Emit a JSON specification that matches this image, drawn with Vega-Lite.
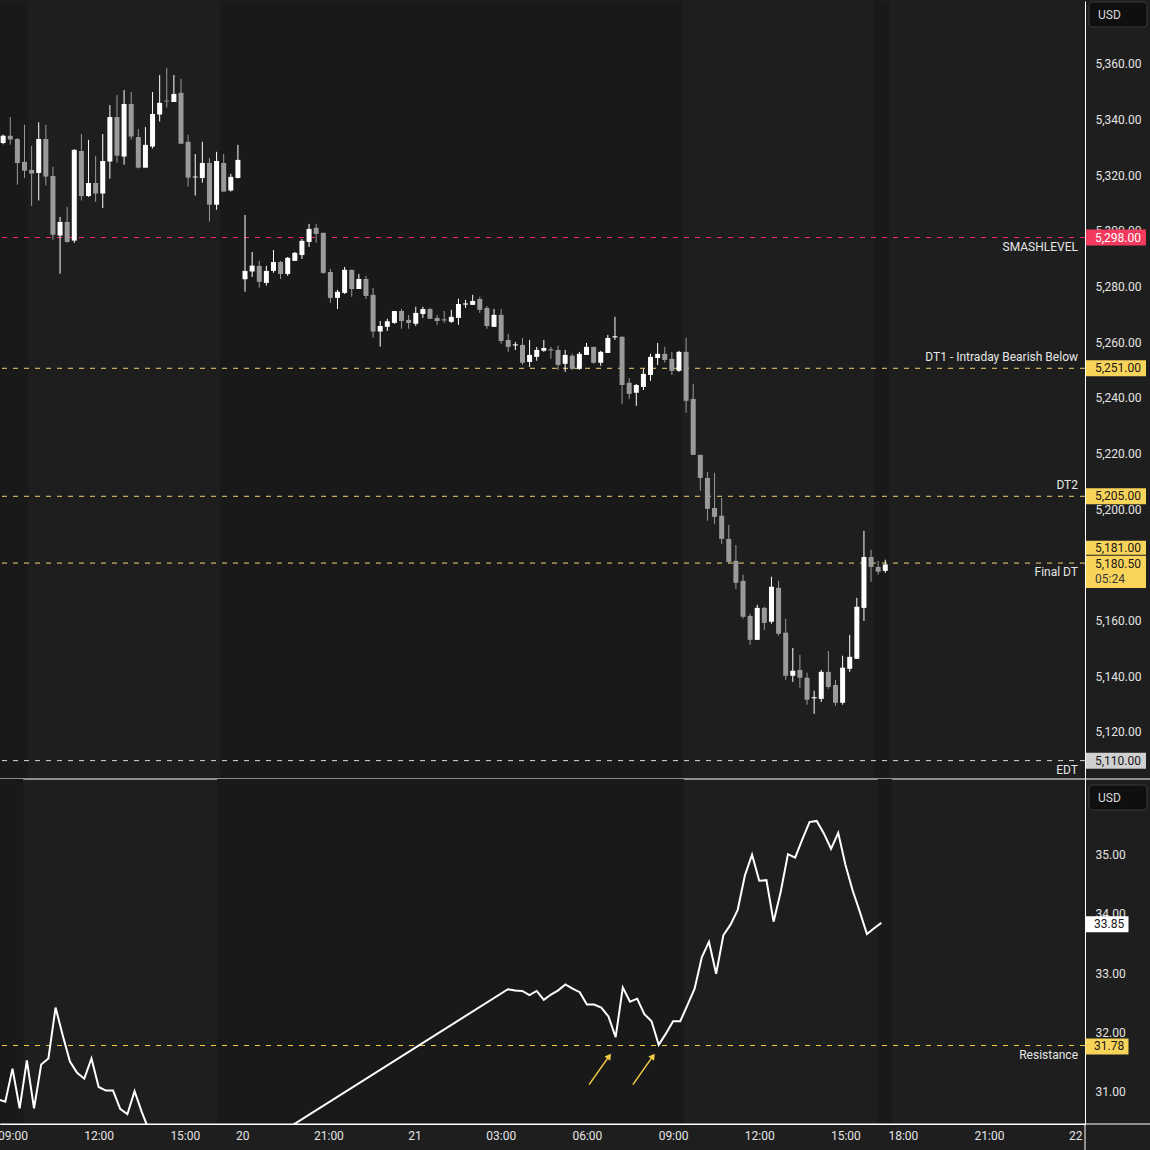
{
  "$schema": "https://vega.github.io/schema/vega-lite/v6.json",
  "background": "#1e1e1e",
  "padding": {"left": -3, "top": 0, "right": 0, "bottom": 0},
  "spacing": 0,
  "bounds": "flush",
  "config": {
    "view": {"stroke": null},
    "font": "Roboto",
    "axis": {"labelFont": "Roboto", "labelFontSize": 12, "labelColor": "#e4e4e4", "grid": false, "ticks": false, "domainColor": "#ffffff", "domainWidth": 1, "labelFlush": false, "labelOverlap": false}
  },
  "datasets": {
    "sessions": [{"s": -3, "e": 1.5}, {"s": 28.5, "e": 93.5}, {"s": 120.5, "e": 122.5}],
    "levels": [
      {"label": "SMASHLEVEL", "price": 5298, "kind": "smash", "side": "below"},
      {"label": "DT1 - Intraday Bearish Below", "price": 5251, "kind": "dt", "side": "above"},
      {"label": "DT2", "price": 5205, "kind": "dt", "side": "above"},
      {"label": "Final DT", "price": 5181, "kind": "dt", "side": "below"},
      {"label": "EDT", "price": 5110, "kind": "edt", "side": "below"}
    ],
    "blevels": [{"label": "Resistance", "price": 31.78}],
    "arrows": [{"x": 80.3, "y": 31.12, "x2": 83.1, "y2": 31.6}, {"x": 86.4, "y": 31.12, "x2": 89.2, "y2": 31.6}],
    "candles": [
      {"i": -2, "o": 5332.0, "h": 5335.0, "l": 5331.5, "c": 5334.6},
      {"i": -1, "o": 5334.6, "h": 5341.3, "l": 5331.4, "c": 5333.2},
      {"i": 0, "o": 5333.4, "h": 5333.8, "l": 5317.0, "c": 5324.8},
      {"i": 1, "o": 5325.2, "h": 5338.5, "l": 5319.4, "c": 5322.0},
      {"i": 2, "o": 5322.3, "h": 5330.9, "l": 5309.4, "c": 5321.0},
      {"i": 3, "o": 5321.2, "h": 5339.4, "l": 5311.3, "c": 5333.4},
      {"i": 4, "o": 5333.4, "h": 5338.5, "l": 5316.7, "c": 5319.9},
      {"i": 5, "o": 5320.1, "h": 5323.4, "l": 5297.2, "c": 5299.0},
      {"i": 6, "o": 5298.7, "h": 5305.4, "l": 5285.0, "c": 5303.6},
      {"i": 7, "o": 5303.6, "h": 5309.0, "l": 5296.1, "c": 5296.4},
      {"i": 8, "o": 5296.9, "h": 5329.8, "l": 5296.1, "c": 5329.5},
      {"i": 9, "o": 5329.1, "h": 5335.2, "l": 5311.3, "c": 5312.9},
      {"i": 10, "o": 5312.9, "h": 5333.1, "l": 5312.6, "c": 5317.6},
      {"i": 11, "o": 5317.6, "h": 5327.3, "l": 5310.8, "c": 5313.8},
      {"i": 12, "o": 5313.8, "h": 5335.2, "l": 5308.6, "c": 5325.5},
      {"i": 13, "o": 5325.3, "h": 5345.6, "l": 5319.2, "c": 5341.3},
      {"i": 14, "o": 5341.3, "h": 5349.2, "l": 5324.9, "c": 5327.4},
      {"i": 15, "o": 5327.1, "h": 5351.0, "l": 5324.2, "c": 5346.0},
      {"i": 16, "o": 5346.0, "h": 5350.3, "l": 5333.2, "c": 5334.3},
      {"i": 17, "o": 5334.1, "h": 5337.0, "l": 5322.8, "c": 5323.1},
      {"i": 18, "o": 5323.1, "h": 5337.7, "l": 5323.1, "c": 5331.3},
      {"i": 19, "o": 5330.7, "h": 5350.3, "l": 5330.0, "c": 5342.4},
      {"i": 20, "o": 5342.2, "h": 5356.4, "l": 5339.7, "c": 5346.4},
      {"i": 21, "o": 5347.2, "h": 5359.0, "l": 5344.7, "c": 5346.9},
      {"i": 22, "o": 5346.7, "h": 5356.4, "l": 5346.7, "c": 5349.6},
      {"i": 23, "o": 5350.0, "h": 5355.0, "l": 5331.7, "c": 5331.7},
      {"i": 24, "o": 5332.4, "h": 5334.9, "l": 5316.3, "c": 5319.5},
      {"i": 25, "o": 5319.6, "h": 5328.0, "l": 5313.1, "c": 5319.9},
      {"i": 26, "o": 5319.4, "h": 5332.4, "l": 5317.7, "c": 5324.8},
      {"i": 27, "o": 5324.8, "h": 5326.6, "l": 5303.7, "c": 5309.8},
      {"i": 28, "o": 5309.8, "h": 5328.8, "l": 5308.0, "c": 5325.5},
      {"i": 29, "o": 5324.8, "h": 5328.0, "l": 5314.5, "c": 5314.5},
      {"i": 30, "o": 5314.9, "h": 5320.9, "l": 5314.5, "c": 5319.8},
      {"i": 31, "o": 5319.4, "h": 5331.3, "l": 5319.2, "c": 5325.9},
      {"i": 32, "o": 5283.0, "h": 5306.1, "l": 5278.5, "c": 5286.0},
      {"i": 33, "o": 5285.8, "h": 5292.8, "l": 5283.8, "c": 5287.9},
      {"i": 34, "o": 5287.8, "h": 5289.6, "l": 5280.0, "c": 5282.1},
      {"i": 35, "o": 5281.7, "h": 5287.8, "l": 5280.7, "c": 5286.0},
      {"i": 36, "o": 5286.0, "h": 5293.5, "l": 5285.3, "c": 5289.2},
      {"i": 37, "o": 5289.2, "h": 5289.6, "l": 5283.1, "c": 5284.9},
      {"i": 38, "o": 5284.9, "h": 5291.0, "l": 5284.2, "c": 5290.7},
      {"i": 39, "o": 5289.6, "h": 5292.8, "l": 5289.6, "c": 5292.5},
      {"i": 40, "o": 5291.7, "h": 5297.5, "l": 5290.3, "c": 5296.8},
      {"i": 41, "o": 5296.4, "h": 5302.9, "l": 5294.6, "c": 5301.1},
      {"i": 42, "o": 5301.5, "h": 5302.9, "l": 5296.1, "c": 5299.3},
      {"i": 43, "o": 5299.7, "h": 5299.7, "l": 5284.9, "c": 5285.3},
      {"i": 44, "o": 5285.6, "h": 5286.7, "l": 5274.5, "c": 5276.3},
      {"i": 45, "o": 5276.3, "h": 5279.2, "l": 5272.3, "c": 5278.5},
      {"i": 46, "o": 5278.1, "h": 5287.4, "l": 5277.7, "c": 5286.4},
      {"i": 47, "o": 5286.4, "h": 5286.4, "l": 5276.7, "c": 5279.5},
      {"i": 48, "o": 5279.5, "h": 5284.9, "l": 5279.5, "c": 5283.1},
      {"i": 49, "o": 5283.1, "h": 5284.2, "l": 5275.9, "c": 5277.0},
      {"i": 50, "o": 5277.4, "h": 5279.9, "l": 5262.0, "c": 5264.2},
      {"i": 51, "o": 5264.2, "h": 5268.0, "l": 5258.8, "c": 5266.2},
      {"i": 52, "o": 5265.9, "h": 5268.8, "l": 5264.4, "c": 5267.9},
      {"i": 53, "o": 5267.3, "h": 5271.6, "l": 5267.0, "c": 5271.6},
      {"i": 54, "o": 5271.6, "h": 5272.3, "l": 5265.2, "c": 5268.0},
      {"i": 55, "o": 5268.4, "h": 5270.2, "l": 5265.2, "c": 5267.3},
      {"i": 56, "o": 5267.0, "h": 5273.1, "l": 5266.2, "c": 5270.9},
      {"i": 57, "o": 5270.5, "h": 5273.1, "l": 5269.1, "c": 5272.3},
      {"i": 58, "o": 5272.3, "h": 5272.7, "l": 5268.8, "c": 5268.8},
      {"i": 59, "o": 5269.1, "h": 5270.2, "l": 5266.6, "c": 5268.0},
      {"i": 60, "o": 5268.6, "h": 5271.6, "l": 5267.3, "c": 5268.2},
      {"i": 61, "o": 5267.7, "h": 5272.0, "l": 5267.3, "c": 5269.5},
      {"i": 62, "o": 5269.1, "h": 5276.0, "l": 5266.6, "c": 5274.1},
      {"i": 63, "o": 5273.9, "h": 5275.6, "l": 5272.7, "c": 5274.3},
      {"i": 64, "o": 5273.8, "h": 5277.4, "l": 5273.8, "c": 5275.2},
      {"i": 65, "o": 5275.9, "h": 5276.7, "l": 5270.9, "c": 5272.0},
      {"i": 66, "o": 5272.7, "h": 5273.4, "l": 5265.2, "c": 5266.2},
      {"i": 67, "o": 5265.9, "h": 5272.3, "l": 5265.9, "c": 5270.2},
      {"i": 68, "o": 5270.2, "h": 5272.3, "l": 5259.8, "c": 5260.8},
      {"i": 69, "o": 5261.2, "h": 5263.4, "l": 5256.9, "c": 5258.7},
      {"i": 70, "o": 5259.2, "h": 5260.5, "l": 5257.6, "c": 5259.6},
      {"i": 71, "o": 5259.4, "h": 5261.9, "l": 5252.2, "c": 5253.0},
      {"i": 72, "o": 5253.3, "h": 5261.2, "l": 5251.5, "c": 5255.8},
      {"i": 73, "o": 5255.1, "h": 5258.7, "l": 5253.7, "c": 5257.6},
      {"i": 74, "o": 5257.3, "h": 5261.2, "l": 5256.9, "c": 5258.3},
      {"i": 75, "o": 5257.8, "h": 5258.7, "l": 5254.4, "c": 5257.4},
      {"i": 76, "o": 5257.6, "h": 5259.1, "l": 5250.4, "c": 5252.2},
      {"i": 77, "o": 5252.6, "h": 5257.6, "l": 5249.7, "c": 5255.8},
      {"i": 78, "o": 5255.5, "h": 5256.2, "l": 5250.4, "c": 5250.8},
      {"i": 79, "o": 5250.8, "h": 5256.9, "l": 5250.4, "c": 5256.2},
      {"i": 80, "o": 5255.8, "h": 5260.1, "l": 5255.8, "c": 5258.7},
      {"i": 81, "o": 5258.7, "h": 5258.7, "l": 5252.6, "c": 5253.0},
      {"i": 82, "o": 5253.0, "h": 5257.3, "l": 5251.9, "c": 5256.9},
      {"i": 83, "o": 5256.5, "h": 5263.0, "l": 5256.5, "c": 5261.9},
      {"i": 84, "o": 5262.1, "h": 5269.5, "l": 5261.2, "c": 5262.5},
      {"i": 85, "o": 5262.3, "h": 5262.6, "l": 5238.2, "c": 5245.0},
      {"i": 86, "o": 5245.8, "h": 5247.5, "l": 5240.0, "c": 5241.8},
      {"i": 87, "o": 5242.2, "h": 5245.4, "l": 5237.5, "c": 5245.0},
      {"i": 88, "o": 5244.3, "h": 5250.8, "l": 5243.2, "c": 5249.0},
      {"i": 89, "o": 5248.6, "h": 5256.2, "l": 5246.5, "c": 5255.1},
      {"i": 90, "o": 5254.7, "h": 5260.1, "l": 5252.2, "c": 5256.2},
      {"i": 91, "o": 5256.2, "h": 5258.7, "l": 5253.0, "c": 5254.0},
      {"i": 92, "o": 5254.4, "h": 5256.9, "l": 5248.6, "c": 5250.1},
      {"i": 93, "o": 5250.1, "h": 5257.3, "l": 5249.7, "c": 5256.9},
      {"i": 94, "o": 5256.9, "h": 5261.9, "l": 5235.0, "c": 5239.3},
      {"i": 95, "o": 5240.0, "h": 5245.4, "l": 5219.9, "c": 5219.9},
      {"i": 96, "o": 5219.9, "h": 5219.9, "l": 5207.0, "c": 5211.6},
      {"i": 97, "o": 5211.6, "h": 5213.8, "l": 5196.2, "c": 5200.5},
      {"i": 98, "o": 5200.8, "h": 5213.4, "l": 5195.1, "c": 5197.6},
      {"i": 99, "o": 5198.0, "h": 5204.4, "l": 5187.9, "c": 5189.7},
      {"i": 100, "o": 5189.7, "h": 5194.7, "l": 5180.7, "c": 5181.4},
      {"i": 101, "o": 5181.8, "h": 5187.5, "l": 5171.7, "c": 5173.9},
      {"i": 102, "o": 5174.6, "h": 5176.8, "l": 5161.0, "c": 5161.7},
      {"i": 103, "o": 5162.0, "h": 5162.8, "l": 5151.6, "c": 5153.4},
      {"i": 104, "o": 5153.4, "h": 5166.0, "l": 5153.4, "c": 5164.9},
      {"i": 105, "o": 5164.9, "h": 5165.3, "l": 5157.0, "c": 5159.5},
      {"i": 106, "o": 5159.9, "h": 5176.1, "l": 5159.2, "c": 5172.5},
      {"i": 107, "o": 5172.1, "h": 5174.6, "l": 5154.9, "c": 5155.6},
      {"i": 108, "o": 5156.0, "h": 5161.0, "l": 5139.0, "c": 5140.5},
      {"i": 109, "o": 5140.5, "h": 5150.5, "l": 5138.3, "c": 5142.3},
      {"i": 110, "o": 5142.6, "h": 5148.0, "l": 5136.2, "c": 5139.8},
      {"i": 111, "o": 5139.8, "h": 5141.6, "l": 5130.1, "c": 5131.9},
      {"i": 112, "o": 5132.4, "h": 5135.1, "l": 5126.8, "c": 5132.8},
      {"i": 113, "o": 5132.2, "h": 5142.6, "l": 5131.1, "c": 5141.9},
      {"i": 114, "o": 5141.9, "h": 5149.4, "l": 5135.8, "c": 5136.5},
      {"i": 115, "o": 5137.2, "h": 5139.0, "l": 5129.7, "c": 5130.8},
      {"i": 116, "o": 5130.8, "h": 5147.7, "l": 5130.1, "c": 5143.4},
      {"i": 117, "o": 5143.0, "h": 5155.2, "l": 5141.9, "c": 5147.3},
      {"i": 118, "o": 5146.6, "h": 5168.5, "l": 5146.6, "c": 5165.3},
      {"i": 119, "o": 5164.9, "h": 5192.6, "l": 5160.2, "c": 5183.2},
      {"i": 120, "o": 5183.2, "h": 5185.8, "l": 5174.3, "c": 5179.6},
      {"i": 121, "o": 5179.6, "h": 5181.8, "l": 5176.8, "c": 5177.9},
      {"i": 122, "o": 5178.2, "h": 5182.2, "l": 5177.5, "c": 5180.5}
    ],
    "vix": [
      {"i": -2, "v": 30.87}, {"i": -1, "v": 30.83}, {"i": 0, "v": 31.39}, {"i": 1, "v": 30.72}, {"i": 2, "v": 31.53},
      {"i": 3, "v": 30.72}, {"i": 4, "v": 31.46}, {"i": 5, "v": 31.56}, {"i": 6, "v": 32.42}, {"i": 7, "v": 31.95},
      {"i": 8, "v": 31.51}, {"i": 9, "v": 31.32}, {"i": 10, "v": 31.22}, {"i": 11, "v": 31.56}, {"i": 12, "v": 31.08},
      {"i": 13, "v": 31.02}, {"i": 14, "v": 31.02}, {"i": 15, "v": 30.71}, {"i": 16, "v": 30.62}, {"i": 17, "v": 31.01},
      {"i": 18, "v": 30.66}, {"i": 19, "v": 30.35}, {"i": 29, "v": 29.67},
      {"i": 69, "v": 32.73}, {"i": 70, "v": 32.71}, {"i": 71, "v": 32.70}, {"i": 72, "v": 32.63}, {"i": 73, "v": 32.70},
      {"i": 74, "v": 32.55}, {"i": 75, "v": 32.64}, {"i": 76, "v": 32.71}, {"i": 77, "v": 32.81}, {"i": 78, "v": 32.74},
      {"i": 79, "v": 32.68}, {"i": 80, "v": 32.47}, {"i": 81, "v": 32.47}, {"i": 82, "v": 32.42}, {"i": 83, "v": 32.27},
      {"i": 84, "v": 31.92}, {"i": 85, "v": 32.76}, {"i": 86, "v": 32.52}, {"i": 87, "v": 32.57}, {"i": 88, "v": 32.31},
      {"i": 89, "v": 32.19}, {"i": 90, "v": 31.79}, {"i": 91, "v": 31.98}, {"i": 92, "v": 32.19}, {"i": 93, "v": 32.19},
      {"i": 94, "v": 32.46}, {"i": 95, "v": 32.74}, {"i": 96, "v": 33.27}, {"i": 97, "v": 33.53}, {"i": 98, "v": 32.99},
      {"i": 99, "v": 33.64}, {"i": 100, "v": 33.82}, {"i": 101, "v": 34.07}, {"i": 102, "v": 34.65}, {"i": 103, "v": 35.00},
      {"i": 104, "v": 34.56}, {"i": 105, "v": 34.57}, {"i": 106, "v": 33.87}, {"i": 107, "v": 34.38}, {"i": 108, "v": 35.01},
      {"i": 109, "v": 34.95}, {"i": 110, "v": 35.26}, {"i": 111, "v": 35.55}, {"i": 112, "v": 35.57}, {"i": 113, "v": 35.36},
      {"i": 114, "v": 35.10}, {"i": 115, "v": 35.37}, {"i": 116, "v": 34.83}, {"i": 117, "v": 34.40}, {"i": 118, "v": 34.04},
      {"i": 119, "v": 33.66}, {"i": 120, "v": 33.76}, {"i": 121, "v": 33.85}
    ]
  },
  "vconcat": [
    {
      "width": 1085,
      "height": 778,
      "layer": [
        {
          "data": {"name": "sessions"},
          "mark": {"type": "rect", "color": "#191919", "clip": true},
          "encoding": {
            "x": {"field": "s", "type": "quantitative", "scale": {"domain": [-1.74, 149.37], "nice": false, "zero": false}, "axis": null},
            "x2": {"field": "e"},
            "y": {"value": 0},
            "y2": {"value": "height"}
          }
        },
        {
          "data": {"name": "levels"},
          "transform": [{"filter": "datum.kind == 'dt'"}],
          "mark": {"type": "rule", "strokeDash": [5, 6], "strokeWidth": 1, "color": "#f2d46e"},
          "encoding": {
            "y": {"field": "price", "type": "quantitative", "scale": {"domain": [5103.4, 5383.0], "nice": false, "zero": false},
                  "axis": {"orient": "right", "values": [5120, 5140, 5160, 5180, 5200, 5220, 5240, 5260, 5280, 5300, 5320, 5340, 5360], "format": ",.2f", "labelPadding": 10, "labelOffset": -1, "title": null}}
          }
        },
        {
          "data": {"name": "levels"},
          "transform": [{"filter": "datum.kind == 'edt'"}],
          "mark": {"type": "rule", "strokeDash": [5, 6], "strokeWidth": 1, "color": "#dddddd"},
          "encoding": {
            "y": {"field": "price", "type": "quantitative", "scale": {"domain": [5103.4, 5383.0], "nice": false, "zero": false},
                  "axis": {"orient": "right", "values": [5120, 5140, 5160, 5180, 5200, 5220, 5240, 5260, 5280, 5300, 5320, 5340, 5360], "format": ",.2f", "labelPadding": 10, "labelOffset": -1, "title": null}}
          }
        },
        {
          "data": {"name": "levels"},
          "transform": [{"filter": "datum.kind == 'smash'"}],
          "mark": {"type": "rule", "strokeDash": [5, 6], "strokeWidth": 1.2, "color": "#ff2d5c"},
          "encoding": {
            "y": {"field": "price", "type": "quantitative", "scale": {"domain": [5103.4, 5383.0], "nice": false, "zero": false},
                  "axis": {"orient": "right", "values": [5120, 5140, 5160, 5180, 5200, 5220, 5240, 5260, 5280, 5300, 5320, 5340, 5360], "format": ",.2f", "labelPadding": 10, "labelOffset": -1, "title": null}}
          }
        },
        {
          "data": {"name": "candles"},
          "mark": {"type": "rule", "strokeWidth": 1, "clip": true},
          "encoding": {
            "x": {"field": "i", "type": "quantitative", "scale": {"domain": [-1.74, 149.37], "nice": false, "zero": false}, "axis": null},
            "y": {"field": "l", "type": "quantitative", "scale": {"domain": [5103.4, 5383.0], "nice": false, "zero": false},
                  "axis": {"orient": "right", "values": [5120, 5140, 5160, 5180, 5200, 5220, 5240, 5260, 5280, 5300, 5320, 5340, 5360], "format": ",.2f", "labelPadding": 10, "labelOffset": -1, "title": null}},
            "y2": {"field": "h"},
            "color": {"condition": {"test": "datum.c >= datum.o", "value": "#ffffff"}, "value": "#9a9a9a"}
          }
        },
        {
          "data": {"name": "candles"},
          "mark": {"type": "bar", "width": 5, "clip": true},
          "encoding": {
            "x": {"field": "i", "type": "quantitative", "scale": {"domain": [-1.74, 149.37], "nice": false, "zero": false}, "axis": null},
            "y": {"field": "o", "type": "quantitative", "scale": {"domain": [5103.4, 5383.0], "nice": false, "zero": false},
                  "axis": {"orient": "right", "values": [5120, 5140, 5160, 5180, 5200, 5220, 5240, 5260, 5280, 5300, 5320, 5340, 5360], "format": ",.2f", "labelPadding": 10, "labelOffset": -1, "title": null}},
            "y2": {"field": "c"},
            "color": {"condition": {"test": "datum.c >= datum.o", "value": "#ffffff"}, "value": "#9a9a9a"}
          }
        },
        {
          "data": {"name": "levels"},
          "transform": [{"filter": "datum.side == 'above'"}],
          "mark": {"type": "text", "align": "right", "baseline": "middle", "xOffset": -7, "yOffset": -11, "fontSize": 12, "color": "#e6e6e6"},
          "encoding": {
            "x": {"value": "width"},
            "y": {"field": "price", "type": "quantitative", "scale": {"domain": [5103.4, 5383.0], "nice": false, "zero": false},
                  "axis": {"orient": "right", "values": [5120, 5140, 5160, 5180, 5200, 5220, 5240, 5260, 5280, 5300, 5320, 5340, 5360], "format": ",.2f", "labelPadding": 10, "labelOffset": -1, "title": null}},
            "text": {"field": "label"}
          }
        },
        {
          "data": {"name": "levels"},
          "transform": [{"filter": "datum.side == 'below'"}],
          "mark": {"type": "text", "align": "right", "baseline": "middle", "xOffset": -7, "yOffset": 9, "fontSize": 12, "color": "#e6e6e6"},
          "encoding": {
            "x": {"value": "width"},
            "y": {"field": "price", "type": "quantitative", "scale": {"domain": [5103.4, 5383.0], "nice": false, "zero": false},
                  "axis": {"orient": "right", "values": [5120, 5140, 5160, 5180, 5200, 5220, 5240, 5260, 5280, 5300, 5320, 5340, 5360], "format": ",.2f", "labelPadding": 10, "labelOffset": -1, "title": null}},
            "text": {"field": "label"}
          }
        },
        {
          "data": {"name": "levels"},
          "transform": [{"filter": "datum.label != 'Final DT'"}],
          "mark": {"type": "point", "shape": "M-1,-0.2667H1V0.2667H-1Z", "size": 3600, "filled": true, "opacity": 1, "strokeWidth": 0, "xOffset": 31},
          "encoding": {
            "x": {"value": "width"},
            "y": {"field": "price", "type": "quantitative", "scale": {"domain": [5103.4, 5383.0], "nice": false, "zero": false},
                  "axis": {"orient": "right", "values": [5120, 5140, 5160, 5180, 5200, 5220, 5240, 5260, 5280, 5300, 5320, 5340, 5360], "format": ",.2f", "labelPadding": 10, "labelOffset": -1, "title": null}},
            "color": {"condition": [{"test": "datum.kind == 'smash'", "value": "#f23a5e"}, {"test": "datum.kind == 'dt'", "value": "#f9d45b"}], "value": "#d0d0d0"}
          }
        },
        {
          "data": {"name": "levels"},
          "transform": [{"filter": "datum.label == 'Final DT'"}],
          "mark": {"type": "point", "shape": "M-1,-0.2333H1V0.2333H-1Z", "size": 3600, "filled": true, "opacity": 1, "strokeWidth": 0, "xOffset": 31, "yOffset": -15.4, "color": "#f9d45b"},
          "encoding": {
            "x": {"value": "width"},
            "y": {"field": "price", "type": "quantitative", "scale": {"domain": [5103.4, 5383.0], "nice": false, "zero": false},
                  "axis": {"orient": "right", "values": [5120, 5140, 5160, 5180, 5200, 5220, 5240, 5260, 5280, 5300, 5320, 5340, 5360], "format": ",.2f", "labelPadding": 10, "labelOffset": -1, "title": null}}
          }
        },
        {
          "data": {"name": "candles"},
          "transform": [{"filter": "datum.i == 122"}],
          "mark": {"type": "point", "shape": "M-1,-0.54H1V0.54H-1Z", "size": 3600, "filled": true, "opacity": 1, "strokeWidth": 0, "xOffset": 31, "yOffset": 7.4, "color": "#f9d45b"},
          "encoding": {
            "x": {"value": "width"},
            "y": {"field": "c", "type": "quantitative", "scale": {"domain": [5103.4, 5383.0], "nice": false, "zero": false},
                  "axis": {"orient": "right", "values": [5120, 5140, 5160, 5180, 5200, 5220, 5240, 5260, 5280, 5300, 5320, 5340, 5360], "format": ",.2f", "labelPadding": 10, "labelOffset": -1, "title": null}}
          }
        },
        {
          "data": {"name": "levels"},
          "transform": [{"filter": "datum.label != 'Final DT'"}],
          "mark": {"type": "text", "align": "left", "baseline": "middle", "xOffset": 10, "fontSize": 12},
          "encoding": {
            "x": {"value": "width"},
            "y": {"field": "price", "type": "quantitative", "scale": {"domain": [5103.4, 5383.0], "nice": false, "zero": false},
                  "axis": {"orient": "right", "values": [5120, 5140, 5160, 5180, 5200, 5220, 5240, 5260, 5280, 5300, 5320, 5340, 5360], "format": ",.2f", "labelPadding": 10, "labelOffset": -1, "title": null}},
            "text": {"field": "price", "format": ",.2f"},
            "color": {"condition": {"test": "datum.kind == 'smash'", "value": "#ffffff"}, "value": "#161616"}
          }
        },
        {
          "data": {"name": "levels"},
          "transform": [{"filter": "datum.label == 'Final DT'"}],
          "mark": {"type": "text", "align": "left", "baseline": "middle", "xOffset": 10, "yOffset": -15.4, "fontSize": 12, "color": "#161616"},
          "encoding": {
            "x": {"value": "width"},
            "y": {"field": "price", "type": "quantitative", "scale": {"domain": [5103.4, 5383.0], "nice": false, "zero": false},
                  "axis": {"orient": "right", "values": [5120, 5140, 5160, 5180, 5200, 5220, 5240, 5260, 5280, 5300, 5320, 5340, 5360], "format": ",.2f", "labelPadding": 10, "labelOffset": -1, "title": null}},
            "text": {"field": "price", "format": ",.2f"}
          }
        },
        {
          "data": {"name": "candles"},
          "transform": [{"filter": "datum.i == 122"}],
          "mark": {"type": "text", "align": "left", "baseline": "middle", "xOffset": 10, "fontSize": 12, "color": "#161616"},
          "encoding": {
            "x": {"value": "width"},
            "y": {"field": "c", "type": "quantitative", "scale": {"domain": [5103.4, 5383.0], "nice": false, "zero": false},
                  "axis": {"orient": "right", "values": [5120, 5140, 5160, 5180, 5200, 5220, 5240, 5260, 5280, 5300, 5320, 5340, 5360], "format": ",.2f", "labelPadding": 10, "labelOffset": -1, "title": null}},
            "text": {"field": "c", "format": ",.2f"}
          }
        },
        {
          "data": {"name": "candles"},
          "transform": [{"filter": "datum.i == 122"}],
          "mark": {"type": "text", "align": "left", "baseline": "middle", "xOffset": 10, "yOffset": 14.5, "fontSize": 12, "color": "#3a3a3a"},
          "encoding": {
            "x": {"value": "width"},
            "y": {"field": "c", "type": "quantitative", "scale": {"domain": [5103.4, 5383.0], "nice": false, "zero": false},
                  "axis": {"orient": "right", "values": [5120, 5140, 5160, 5180, 5200, 5220, 5240, 5260, 5280, 5300, 5320, 5340, 5360], "format": ",.2f", "labelPadding": 10, "labelOffset": -1, "title": null}},
            "text": {"value": "05:24"}
          }
        },
        {
          "data": {"values": [{"unit": "USD"}]},
          "mark": {"type": "point", "shape": "M-0.88,-0.431H0.88Q1,-0.431 1,-0.311V0.311Q1,0.431 0.88,0.431H-0.88Q-1,0.431 -1,0.311V-0.311Q-1,-0.431 -0.88,-0.431Z", "size": 3364, "filled": true, "opacity": 1, "color": "#0f0f0f", "stroke": "#3a3a3a", "strokeWidth": 1, "xOffset": 33, "yOffset": 13.5},
          "encoding": {"x": {"value": "width"}, "y": {"value": 0}}
        },
        {
          "data": {"values": [{"unit": "USD"}]},
          "mark": {"type": "text", "align": "left", "baseline": "middle", "xOffset": 13, "yOffset": 14, "fontSize": 12, "color": "#d9d9d9"},
          "encoding": {"x": {"value": "width"}, "y": {"value": 0}, "text": {"field": "unit"}}
        },
        {
          "data": {"values": [{"unit": "USD"}]},
          "mark": {"type": "rule", "color": "#ffffff", "strokeWidth": 1, "x2Offset": 65},
          "encoding": {"x": {"value": 0}, "x2": {"value": "width"}, "y": {"value": "height"}}
        }
      ]
    },
    {
      "width": 1085,
      "height": 345,
      "layer": [
        {
          "data": {"name": "sessions"},
          "mark": {"type": "rect", "color": "#191919", "clip": true},
          "encoding": {
            "x": {"field": "s", "type": "quantitative", "scale": {"domain": [-1.74, 149.37], "nice": false, "zero": false},
                  "axis": {"orient": "bottom", "values": [0, 12, 24, 32, 44, 56, 68, 80, 92, 104, 116, 124, 136, 148], "labelExpr": "['09:00','12:00','15:00','20','21:00','21','03:00','06:00','09:00','12:00','15:00','18:00','21:00','22'][indexof([0,12,24,32,44,56,68,80,92,104,116,124,136,148], datum.value)]", "labelPadding": 6, "title": null}},
            "x2": {"field": "e"},
            "y": {"value": 0},
            "y2": {"value": "height"}
          }
        },
        {
          "data": {"name": "blevels"},
          "mark": {"type": "rule", "strokeDash": [5, 6], "strokeWidth": 1, "color": "#f5cc45"},
          "encoding": {
            "y": {"field": "price", "type": "quantitative", "scale": {"domain": [30.455, 36.278], "nice": false, "zero": false},
                  "axis": {"orient": "right", "values": [31, 32, 33, 34, 35], "format": ".2f", "labelPadding": 10, "title": null}}
          }
        },
        {
          "data": {"name": "vix"},
          "mark": {"type": "line", "color": "#ffffff", "strokeWidth": 2, "clip": true},
          "encoding": {
            "x": {"field": "i", "type": "quantitative", "scale": {"domain": [-1.74, 149.37], "nice": false, "zero": false},
                  "axis": {"orient": "bottom", "values": [0, 12, 24, 32, 44, 56, 68, 80, 92, 104, 116, 124, 136, 148], "labelExpr": "['09:00','12:00','15:00','20','21:00','21','03:00','06:00','09:00','12:00','15:00','18:00','21:00','22'][indexof([0,12,24,32,44,56,68,80,92,104,116,124,136,148], datum.value)]", "labelPadding": 6, "title": null}},
            "y": {"field": "v", "type": "quantitative", "scale": {"domain": [30.455, 36.278], "nice": false, "zero": false},
                  "axis": {"orient": "right", "values": [31, 32, 33, 34, 35], "format": ".2f", "labelPadding": 10, "title": null}}
          }
        },
        {
          "data": {"name": "arrows"},
          "mark": {"type": "rule", "color": "#f5cc45", "strokeWidth": 1.5},
          "encoding": {
            "x": {"field": "x", "type": "quantitative", "scale": {"domain": [-1.74, 149.37], "nice": false, "zero": false},
                  "axis": {"orient": "bottom", "values": [0, 12, 24, 32, 44, 56, 68, 80, 92, 104, 116, 124, 136, 148], "labelExpr": "['09:00','12:00','15:00','20','21:00','21','03:00','06:00','09:00','12:00','15:00','18:00','21:00','22'][indexof([0,12,24,32,44,56,68,80,92,104,116,124,136,148], datum.value)]", "labelPadding": 6, "title": null}},
            "x2": {"field": "x2"},
            "y": {"field": "y", "type": "quantitative", "scale": {"domain": [30.455, 36.278], "nice": false, "zero": false},
                  "axis": {"orient": "right", "values": [31, 32, 33, 34, 35], "format": ".2f", "labelPadding": 10, "title": null}},
            "y2": {"field": "y2"}
          }
        },
        {
          "data": {"name": "arrows"},
          "mark": {"type": "point", "shape": "triangle-up", "size": 50, "filled": true, "opacity": 1, "color": "#f5cc45", "angle": 36},
          "encoding": {
            "x": {"field": "x2", "type": "quantitative", "scale": {"domain": [-1.74, 149.37], "nice": false, "zero": false},
                  "axis": {"orient": "bottom", "values": [0, 12, 24, 32, 44, 56, 68, 80, 92, 104, 116, 124, 136, 148], "labelExpr": "['09:00','12:00','15:00','20','21:00','21','03:00','06:00','09:00','12:00','15:00','18:00','21:00','22'][indexof([0,12,24,32,44,56,68,80,92,104,116,124,136,148], datum.value)]", "labelPadding": 6, "title": null}},
            "y": {"field": "y2", "type": "quantitative", "scale": {"domain": [30.455, 36.278], "nice": false, "zero": false},
                  "axis": {"orient": "right", "values": [31, 32, 33, 34, 35], "format": ".2f", "labelPadding": 10, "title": null}}
          }
        },
        {
          "data": {"name": "blevels"},
          "mark": {"type": "text", "align": "right", "baseline": "middle", "xOffset": -7, "yOffset": 10, "fontSize": 12, "color": "#e6e6e6"},
          "encoding": {
            "x": {"value": "width"},
            "y": {"field": "price", "type": "quantitative", "scale": {"domain": [30.455, 36.278], "nice": false, "zero": false},
                  "axis": {"orient": "right", "values": [31, 32, 33, 34, 35], "format": ".2f", "labelPadding": 10, "title": null}},
            "text": {"field": "label"}
          }
        },
        {
          "data": {"name": "blevels"},
          "mark": {"type": "point", "shape": "M-1,-0.372H1V0.372H-1Z", "size": 1849, "filled": true, "opacity": 1, "strokeWidth": 0, "xOffset": 22, "yOffset": 1, "color": "#f9d45b"},
          "encoding": {
            "x": {"value": "width"},
            "y": {"field": "price", "type": "quantitative", "scale": {"domain": [30.455, 36.278], "nice": false, "zero": false},
                  "axis": {"orient": "right", "values": [31, 32, 33, 34, 35], "format": ".2f", "labelPadding": 10, "title": null}}
          }
        },
        {
          "data": {"name": "vix"},
          "transform": [{"filter": "datum.i == 121"}],
          "mark": {"type": "point", "shape": "M-1,-0.372H1V0.372H-1Z", "size": 1849, "filled": true, "opacity": 1, "strokeWidth": 0, "xOffset": 22, "yOffset": 1.5, "color": "#ffffff"},
          "encoding": {
            "x": {"value": "width"},
            "y": {"field": "v", "type": "quantitative", "scale": {"domain": [30.455, 36.278], "nice": false, "zero": false},
                  "axis": {"orient": "right", "values": [31, 32, 33, 34, 35], "format": ".2f", "labelPadding": 10, "title": null}}
          }
        },
        {
          "data": {"name": "blevels"},
          "mark": {"type": "text", "align": "left", "baseline": "middle", "xOffset": 9, "yOffset": 1, "fontSize": 12, "color": "#161616"},
          "encoding": {
            "x": {"value": "width"},
            "y": {"field": "price", "type": "quantitative", "scale": {"domain": [30.455, 36.278], "nice": false, "zero": false},
                  "axis": {"orient": "right", "values": [31, 32, 33, 34, 35], "format": ".2f", "labelPadding": 10, "title": null}},
            "text": {"field": "price", "format": ".2f"}
          }
        },
        {
          "data": {"name": "vix"},
          "transform": [{"filter": "datum.i == 121"}],
          "mark": {"type": "text", "align": "left", "baseline": "middle", "xOffset": 9, "yOffset": 1.5, "fontSize": 12, "color": "#161616"},
          "encoding": {
            "x": {"value": "width"},
            "y": {"field": "v", "type": "quantitative", "scale": {"domain": [30.455, 36.278], "nice": false, "zero": false},
                  "axis": {"orient": "right", "values": [31, 32, 33, 34, 35], "format": ".2f", "labelPadding": 10, "title": null}},
            "text": {"field": "v", "format": ".2f"}
          }
        },
        {
          "data": {"values": [{"unit": "USD"}]},
          "mark": {"type": "point", "shape": "M-0.88,-0.431H0.88Q1,-0.431 1,-0.311V0.311Q1,0.431 0.88,0.431H-0.88Q-1,0.431 -1,0.311V-0.311Q-1,-0.431 -0.88,-0.431Z", "size": 3364, "filled": true, "opacity": 1, "color": "#0f0f0f", "stroke": "#3a3a3a", "strokeWidth": 1, "xOffset": 33, "yOffset": 18.5},
          "encoding": {"x": {"value": "width"}, "y": {"value": 0}}
        },
        {
          "data": {"values": [{"unit": "USD"}]},
          "mark": {"type": "text", "align": "left", "baseline": "middle", "xOffset": 13, "yOffset": 19, "fontSize": 12, "color": "#d9d9d9"},
          "encoding": {"x": {"value": "width"}, "y": {"value": 0}, "text": {"field": "unit"}}
        },
        {
          "data": {"values": [{"unit": "USD"}]},
          "mark": {"type": "rule", "color": "#ffffff", "strokeWidth": 1, "x2Offset": 65},
          "encoding": {"x": {"value": 0}, "x2": {"value": "width"}, "y": {"value": "height"}}
        },
        {
          "data": {"values": [{"unit": "USD"}]},
          "mark": {"type": "rule", "color": "#ffffff", "strokeWidth": 1, "y2Offset": 30},
          "encoding": {"x": {"value": "width"}, "y": {"value": "height"}, "y2": {"value": "height"}}
        }
      ]
    }
  ]
}
